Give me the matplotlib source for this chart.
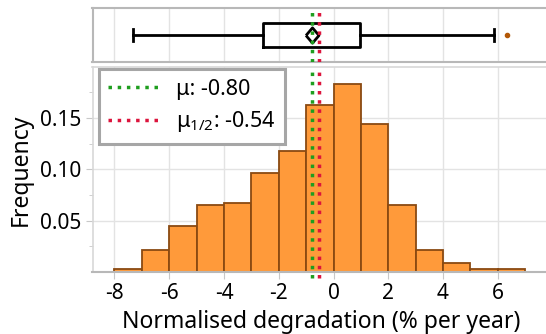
import numpy as np
from matplotlib import pyplot as plt

plt.rcParams['font.family'] = ['Noto Sans', 'DejaVu Sans']
plt.rcParams['mathtext.fontset'] = 'custom'
plt.rcParams['mathtext.rm'] = 'Noto Sans'
plt.rcParams['mathtext.it'] = 'Noto Sans'

# histogram data (density, bin width 1)
bin_edges = [-8, -7, -6, -5, -4, -3, -2, -1, 0, 1, 2, 3, 4, 5, 6, 7]
freq = [0.003, 0.021, 0.045, 0.065, 0.067, 0.096, 0.118, 0.163,
        0.183, 0.144, 0.065, 0.021, 0.009, 0.003, 0.003]

# box plot summary
mean_val = -0.80
median_val = -0.54
q1, q3 = -2.58, 0.98
whisker_lo, whisker_hi = -7.33, 5.87
outliers = [6.32]

x_ticks = [-8, -6, -4, -2, 0, 2, 4, 6]
y_ticks = [0.05, 0.10, 0.15]

grid_col = '#e3e3e3'
spine_col = '#b8b8b8'
green = '#1f9e1f'
red = '#dc143c'

fig = plt.figure(figsize=(5.46, 3.34), dpi=100)
W, H = 546, 334
xlim = (-8.8, 8.8)
ax_box = fig.add_axes([92.5 / W, 1 - 62.3 / H, 482 / W, 54 / H])
ax = fig.add_axes([92.5 / W, 1 - 271.9 / H, 482 / W, 205.2 / H])

# --- box plot on top
diamond = [(-0.85, 0), (0, 1), (0.85, 0), (0, -1), (-0.85, 0)]
stats = [dict(med=median_val, q1=q1, q3=q3, whislo=whisker_lo, whishi=whisker_hi,
              fliers=outliers, mean=mean_val)]
ax_box.bxp(stats, positions=[0], vert=False, widths=0.45, showmeans=True,
           boxprops=dict(color='black', linewidth=2.0),
           whiskerprops=dict(color='black', linewidth=2.0),
           capprops=dict(color='black', linewidth=2.0),
           medianprops=dict(linewidth=0),
           meanprops=dict(marker=diamond, markerfacecolor='white', markeredgecolor='black',
                          markersize=11, markeredgewidth=2.0),
           flierprops=dict(marker='o', markerfacecolor='#b35806', markeredgecolor='#b35806',
                           markersize=3))
ax_box.set_xlim(xlim)
ax_box.set_ylim(-0.5, 0.5)
ax_box.set_xticks(x_ticks)
ax_box.set_xticklabels([])
ax_box.tick_params(axis='x', length=0)
ax_box.set_yticks([])
ax_box.grid(axis='x', color=grid_col, linewidth=1)
ax_box.set_axisbelow(True)
for s in ax_box.spines.values():
    s.set_color(spine_col)
    s.set_linewidth(1.5)
ax_box.axvline(mean_val, color=green, linestyle=':', linewidth=2.5, zorder=5)
ax_box.axvline(median_val, color=red, linestyle=':', linewidth=2.5, zorder=5)

# --- histogram
ax.bar(bin_edges[:-1], freq, width=1, align='edge', color='#ff9a3a',
       edgecolor='#8a4a12', linewidth=1.3, zorder=2)
ax.axvline(mean_val, ymin=-0.03, color=green, linestyle=':', linewidth=2.5, zorder=3,
           clip_on=False, label='μ: %.2f' % mean_val)
ax.axvline(median_val, ymin=-0.03, color=red, linestyle=':', linewidth=2.5, zorder=3,
           clip_on=False, label='μ$_{1/2}$: %.2f' % median_val)
ax.set_xlim(xlim)
ax.set_ylim(0, 0.2)
ax.set_xticks(x_ticks)
ax.set_xticklabels([str(t) for t in x_ticks])
ax.set_yticks(y_ticks)
ax.set_yticklabels(['%.2f' % t for t in y_ticks])
ax.set_yticks([0.025, 0.075, 0.125, 0.175], minor=True)
ax.grid(which='major', color=grid_col, linewidth=1)
ax.set_axisbelow(True)
ax.tick_params(axis='both', which='both', color='#c8c8c8', labelsize=15, pad=3)
ax.tick_params(axis='y', which='minor', length=3)
ax.tick_params(axis='both', which='major', length=5)
for s in ax.spines.values():
    s.set_color('#d8d8d8')
    s.set_linewidth(1.2)
ax.spines['bottom'].set_color(spine_col)
ax.spines['bottom'].set_linewidth(1.5)
ax.set_xlabel('Normalised degradation (% per year)', fontsize=16.5)
ax.xaxis.set_label_coords(0.474, -0.185)
ax.set_ylabel('Frequency', fontsize=16.5, labelpad=5)

leg = ax.legend(loc='upper left', fontsize=15.5, fancybox=False, framealpha=1,
                handlelength=2.4, handletextpad=0.75, borderpad=0.45, labelspacing=0.45,
                bbox_to_anchor=(0.008, 1.0), borderaxespad=0.1)
leg.get_frame().set_edgecolor('#a6a6a6')
leg.get_frame().set_linewidth(2.2)

plt.savefig('out.png', dpi=100)
